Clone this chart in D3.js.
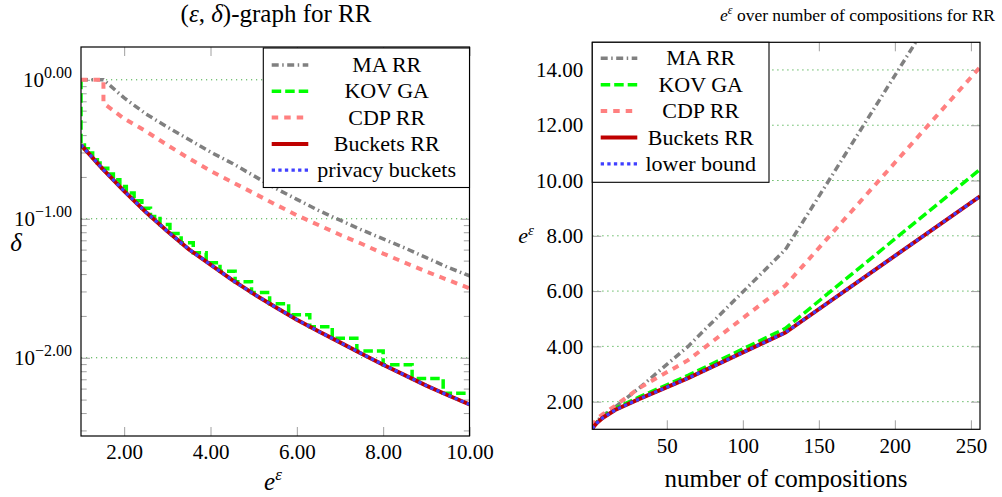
<!DOCTYPE html>
<html>
<head>
<meta charset="utf-8">
<script src="https://cdn.jsdelivr.net/npm/d3@7"></script>
<style>
  body { margin: 0; background: #fff; }
  svg { display: block; }
</style>
</head>
<body>
<svg id="chart" width="1002" height="497" style="font-family: 'Liberation Serif', serif"></svg>
<script>
// ---------- left panel: delta over e^eps ----------
const maEps   = [1, 1.52, 2, 2.5, 3, 3.5, 4, 4.5, 5, 5.5, 6, 6.5, 7, 7.5, 8, 8.5, 9, 9.5, 10];
const maDelta = [1, 1, 0.741, 0.569, 0.457, 0.372, 0.302, 0.251, 0.204, 0.166, 0.138, 0.115,
                 0.0977, 0.0832, 0.0716, 0.0617, 0.0525, 0.0447, 0.0389];

const cdpEps   = [1, 1.52, 1.52, 2, 2.5, 3, 3.5, 4, 4.5, 5, 5.5, 6, 6.5, 7, 7.5, 8, 8.5, 9, 9.5, 10];
const cdpDelta = [1, 1, 0.679, 0.525, 0.427, 0.339, 0.272, 0.221, 0.184, 0.153, 0.127, 0.106,
                  0.0902, 0.0767, 0.0661, 0.0562, 0.0484, 0.0417, 0.0363, 0.0316];

const kovEps   = [1, 1, 1.08, 1.17, 1.27, 1.38, 1.49, 1.62, 1.75, 1.90, 2.05, 2.23, 2.41, 2.61, 2.83,
                  3.06, 3.32, 3.60, 3.90, 4.22, 4.57, 4.95, 5.37, 5.81, 6.30, 6.82, 7.39, 8.00, 8.67, 9.39, 10];
const kovDelta = [1, 0.340, 0.319, 0.297, 0.275, 0.252, 0.231, 0.210, 0.191, 0.171, 0.153, 0.135,
                  0.119, 0.104, 0.0908, 0.0783, 0.0671, 0.0570, 0.0483, 0.0419, 0.0352, 0.0295,
                  0.0245, 0.0204, 0.0167, 0.0138, 0.0112, 0.00891, 0.00708, 0.00556, 0.00556];

const bucketsEps   = [1, 1.5, 2, 2.5, 3, 3.5, 4, 4.5, 5, 5.5, 6, 6.5, 7, 7.5, 8, 8.5, 9, 9.5, 10];
const bucketsDelta = [0.340, 0.229, 0.158, 0.112, 0.0813, 0.0603, 0.0468, 0.0363, 0.0288, 0.0232,
                      0.0188, 0.0155, 0.0129, 0.0107, 0.00891, 0.0075, 0.0063, 0.00537, 0.00462];
const pbDelta      = [0.340, 0.229, 0.158, 0.112, 0.0813, 0.0603, 0.0468, 0.0363, 0.0288, 0.0232,
                      0.0188, 0.0155, 0.0129, 0.0107, 0.00891, 0.0075, 0.0063, 0.00537, 0.00462];

const leftXTicks = [2, 4, 6, 8, 10];
const leftYTicks = [1, 0.1, 0.01];

// ---------- right panel: e^eps over number of compositions ----------
const compositions = [1, 2, 4, 8, 16, 32, 64, 128, 256];
const maComp      = [1.05, 1.15, 1.30, 1.50, 1.80, 2.50, 4.00, 7.50, 18.7];
const kovComp     = [1.02, 1.12, 1.26, 1.46, 1.76, 2.17, 2.95, 4.65, 10.4];
const cdpComp     = [1.10, 1.22, 1.38, 1.55, 1.85, 2.50, 3.50, 6.20, 14.1];
const bucketsComp = [1.02, 1.10, 1.23, 1.42, 1.70, 2.10, 2.85, 4.50, 9.43];
const lowerComp   = [1.02, 1.10, 1.23, 1.42, 1.70, 2.10, 2.85, 4.50, 9.43];

const rightXTicks = [50, 100, 150, 200, 250];
const rightYTicks = [2, 4, 6, 8, 10, 12, 14];

// ---------- styles ----------
const FONT = "'Liberation Serif', serif";
const styles = {
  ma:      { color: "#808080", width: 3.5, dash: "7 3.5 1.5 3.5" },
  kov:     { color: "#00ff00", width: 3.5, dash: "9.5 4" },
  cdp:     { color: "#ff8080", width: 4,   dash: "6.5 6" },
  buckets: { color: "#bf0000", width: 4,   dash: null },
  lower:   { color: "#4040ff", width: 3.2, dash: "3.3 3.3" }
};
const TICK = "#a0a0a0", GRID = "#3faa3f";

const svg = d3.select("#chart");

function zip(xs, ys) { return xs.map((v, i) => [v, ys[i]]); }

// serif text helper
function label(parent, x, y, size, anchor) {
  return parent.append("text").attr("x", x).attr("y", y)
    .attr("text-anchor", anchor || "middle")
    .attr("fill", "#000")
    .style("font-family", FONT)
    .style("font-size", size + "px");
}

function drawFrameAxes(g, x, y, box, xTicks, yTicks, yMinor, xFmt, yFmt, xPad, yPad) {
  // horizontal grid at major y ticks
  g.append("g").selectAll("line").data(yTicks).join("line")
    .attr("x1", box.x0).attr("x2", box.x1)
    .attr("y1", d => y(d)).attr("y2", d => y(d))
    .attr("stroke", GRID).attr("stroke-width", 1).attr("stroke-dasharray", "1.2 3.8");

  const axes = [
    [d3.axisBottom(x).tickValues(xTicks).tickFormat(xFmt).tickPadding(xPad), `translate(0,${box.y1})`, 9],
    [d3.axisTop(x).tickValues(xTicks).tickFormat(""), `translate(0,${box.y0})`, 9],
    [d3.axisLeft(y).tickValues(yTicks).tickFormat(yFmt).tickPadding(yPad), `translate(${box.x0},0)`, 9],
    [d3.axisRight(y).tickValues(yTicks).tickFormat(""), `translate(${box.x1},0)`, 9]
  ];
  if (yMinor) {
    axes.push([d3.axisLeft(y).tickValues(yMinor).tickFormat(""), `translate(${box.x0},0)`, 5.7]);
    axes.push([d3.axisRight(y).tickValues(yMinor).tickFormat(""), `translate(${box.x1},0)`, 5.7]);
  }
  axes.forEach(([ax, tr, len]) => {
    const a = g.append("g").attr("transform", tr)
      .call(ax.tickSizeInner(-len).tickSizeOuter(0));
    a.attr("font-family", FONT).attr("font-size", 21);
    a.select(".domain").remove();
    a.selectAll(".tick line").attr("stroke", TICK).attr("stroke-width", 1);
    a.selectAll(".tick text").attr("fill", "#000")
      .style("font-family", FONT).style("font-size", "21px");
  });
}

function drawSeries(g, x, y, data, st, curve) {
  const line = d3.line().x(d => x(d[0])).y(d => y(d[1])).curve(curve || d3.curveLinear);
  g.append("path").datum(data)
    .attr("d", line)
    .attr("fill", "none")
    .attr("stroke", st.color)
    .attr("stroke-width", st.width)
    .attr("stroke-dasharray", st.dash)
    .attr("stroke-linejoin", "miter")
    .attr("stroke-linecap", "butt");
}

function drawLegend(g, bx, by, bw, bh, rows, sampleX0, sampleX1, textX, rowY0, rowStep) {
  g.append("rect").attr("x", bx).attr("y", by).attr("width", bw).attr("height", bh)
    .attr("fill", "#fff").attr("stroke", "#000").attr("stroke-width", 1.1);
  rows.forEach((r, i) => {
    const cy = rowY0 + i * rowStep;
    g.append("line").attr("x1", sampleX0).attr("x2", sampleX1).attr("y1", cy).attr("y2", cy)
      .attr("stroke", r.st.color).attr("stroke-width", r.st.width)
      .attr("stroke-dasharray", r.st.dash);
    label(g, textX, cy + 7, 22).text(r.label);
  });
}

// ================= left panel =================
const LB = { x0: 81, x1: 469.5, y0: 47, y1: 436 };
const xL = d3.scaleLinear().domain([1, 10]).range([LB.x0, LB.x1]);
const yL = d3.scaleLog().domain([Math.pow(10, -2.563), Math.pow(10, 0.236)]).range([LB.y1, LB.y0]);
const leftMinor = yL.ticks().filter(t => Math.abs(Math.log10(t) - Math.round(Math.log10(t))) > 1e-6);

const gL = svg.append("g");
drawFrameAxes(gL, xL, yL, LB, leftXTicks, leftYTicks, leftMinor, d3.format(".2f"), "", 8, 9);

// decade labels 10^k
leftYTicks.forEach(t => {
  const k = Math.round(Math.log10(t));
  const txt = label(gL, LB.x0 - 9, yL(t) + 7, 21, "end");
  txt.append("tspan").text("10");
  txt.append("tspan").attr("dy", -9).style("font-size", "16px")
    .text(d3.format(".2f")(k).replace("-", "\u2212"));
});

svg.append("clipPath").attr("id", "clipL").append("rect")
  .attr("x", LB.x0).attr("y", LB.y0).attr("width", LB.x1 - LB.x0).attr("height", LB.y1 - LB.y0);
const pL = gL.append("g").attr("clip-path", "url(#clipL)");
drawSeries(pL, xL, yL, zip(maEps, maDelta), styles.ma);
drawSeries(pL, xL, yL, zip(kovEps, kovDelta), styles.kov, d3.curveStepAfter);
drawSeries(pL, xL, yL, zip(cdpEps, cdpDelta), styles.cdp);
drawSeries(pL, xL, yL, zip(bucketsEps, bucketsDelta), styles.buckets);
drawSeries(pL, xL, yL, zip(bucketsEps, pbDelta), styles.lower);

gL.append("rect").attr("x", LB.x0).attr("y", LB.y0)
  .attr("width", LB.x1 - LB.x0).attr("height", LB.y1 - LB.y0)
  .attr("fill", "none").attr("stroke", "#000").attr("stroke-width", 1.2);

drawLegend(gL, 263.3, 48, 206.2, 139.5, [
  { st: styles.ma, label: "MA RR" },
  { st: styles.kov, label: "KOV GA" },
  { st: styles.cdp, label: "CDP RR" },
  { st: styles.buckets, label: "Buckets RR" },
  { st: styles.lower, label: "privacy buckets" }
], 271.7, 308.3, 386.7, 65, 26.3);

// titles and axis labels
{
  const t = label(svg, 276, 22, 25);
  t.append("tspan").text("(");
  t.append("tspan").style("font-style", "italic").text("\u03b5");
  t.append("tspan").text(", ");
  t.append("tspan").style("font-style", "italic").text("\u03b4");
  t.append("tspan").text(")-graph for RR");

  const xl = label(svg, 273, 490, 25);
  xl.append("tspan").style("font-style", "italic").text("e");
  xl.append("tspan").attr("dy", -10).style("font-size", "17px").style("font-style", "italic").text("\u03b5");

  label(svg, 16, 251, 25).style("font-style", "italic").text("\u03b4");
}

// ================= right panel =================
const RB = { x0: 592.3, x1: 980, y0: 42.3, y1: 429.3 };
const xR = d3.scaleLinear().domain([1, 256]).range([RB.x0, RB.x1]);
const yR = d3.scaleLinear().domain([1, 15]).range([RB.y1, RB.y0]);

const gR = svg.append("g");
drawFrameAxes(gR, xR, yR, RB, rightXTicks, rightYTicks, null, d3.format("d"), d3.format(".2f"), 9, 9);

svg.append("clipPath").attr("id", "clipR").append("rect")
  .attr("x", RB.x0).attr("y", RB.y0).attr("width", RB.x1 - RB.x0).attr("height", RB.y1 - RB.y0);
const pR = gR.append("g").attr("clip-path", "url(#clipR)");
drawSeries(pR, xR, yR, zip(compositions, maComp), styles.ma);
drawSeries(pR, xR, yR, zip(compositions, kovComp), styles.kov);
drawSeries(pR, xR, yR, zip(compositions, cdpComp), styles.cdp);
drawSeries(pR, xR, yR, zip(compositions, bucketsComp), styles.buckets);
drawSeries(pR, xR, yR, zip(compositions, lowerComp), styles.lower);

gR.append("rect").attr("x", RB.x0).attr("y", RB.y0)
  .attr("width", RB.x1 - RB.x0).attr("height", RB.y1 - RB.y0)
  .attr("fill", "none").attr("stroke", "#000").attr("stroke-width", 1.2);

drawLegend(gR, 592.3, 42.3, 176.7, 140, [
  { st: styles.ma, label: "MA RR" },
  { st: styles.kov, label: "KOV GA" },
  { st: styles.cdp, label: "CDP RR" },
  { st: styles.buckets, label: "Buckets RR" },
  { st: styles.lower, label: "lower bound" }
], 600.7, 637.3, 700.7, 58.3, 26.4);

{
  const t = label(svg, 720, 21, 17.5, "start");
  t.append("tspan").style("font-style", "italic").text("e");
  t.append("tspan").attr("dy", -7).style("font-size", "12px").style("font-style", "italic").text("\u03b5");
  t.append("tspan").attr("dy", 7).text(" over number of compositions for RR");

  label(svg, 786, 487, 25).text("number of compositions");

  const yl = label(svg, 526, 243, 22);
  yl.append("tspan").style("font-style", "italic").text("e");
  yl.append("tspan").attr("dy", -8).style("font-size", "15px").style("font-style", "italic").text("\u03b5");
}
</script>
</body>
</html>
